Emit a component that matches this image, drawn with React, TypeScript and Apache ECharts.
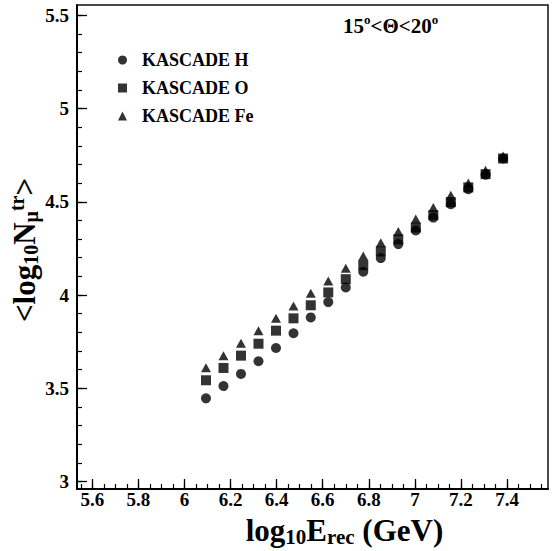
import React, { useEffect, useRef } from "react";
import * as echarts from "echarts";

// log10(E_rec / GeV) bin centres
const energies = [6.093, 6.169, 6.245, 6.321, 6.397, 6.473, 6.548, 6.624, 6.7, 6.776, 6.852, 6.928, 7.004, 7.08, 7.156, 7.232, 7.307, 7.383];
// <log10 N_mu^tr>
const hydrogen = [3.446, 3.512, 3.577, 3.645, 3.716, 3.795, 3.88, 3.962, 4.041, 4.125, 4.198, 4.273, 4.346, 4.415, 4.487, 4.567, 4.645, 4.732];
const oxygen = [3.543, 3.609, 3.675, 3.739, 3.809, 3.875, 3.945, 4.014, 4.085, 4.16, 4.234, 4.298, 4.362, 4.428, 4.498, 4.577, 4.648, 4.732];
const iron = [3.61, 3.675, 3.741, 3.809, 3.875, 3.941, 4.009, 4.075, 4.144, 4.209, 4.28, 4.341, 4.407, 4.469, 4.535, 4.6, 4.669, 4.746];

const seriesNames = ["KASCADE H", "KASCADE O", "KASCADE Fe"];
const xTickLabels = [5.6, 5.8, 6, 6.2, 6.4, 6.6, 6.8, 7, 7.2, 7.4];
const yTickLabels = [3, 3.5, 4, 4.5, 5, 5.5];

const X_MIN = 5.533;
const X_MAX = 7.578;
const Y_MIN = 2.96;
const Y_MAX = 5.555;

const FONT = "'Liberation Serif', 'Times New Roman', serif";

function minorTicks(lo: number, hi: number, step: number): number[] {
  const out: number[] = [];
  const n = Math.round((hi - lo) / step);
  for (let i = 0; i <= n; i++) out.push(Math.round((lo + i * step) * 1000) / 1000);
  return out;
}

const fmt = (v: number) => String(Math.round(v * 10) / 10);

export default function App() {
  const ref = useRef<HTMLDivElement>(null);

  useEffect(() => {
    if (!ref.current) return;
    const chart = echarts.init(ref.current, undefined, { renderer: "svg" });

    const xMinor = minorTicks(5.55, 7.55, 0.05);
    const yMinor = minorTicks(3.0, 5.5, 0.1);

    const toPairs = (ys: number[]) => energies.map((x, i) => [x, ys[i]]);

    const base = { fontFamily: FONT, fontWeight: "bold" as const, color: "#000" };

    chart.setOption({
      animation: false,
      backgroundColor: "#fff",
      title: {
        text: "{a|15}{s|o}{a|<Θ<20}{s|o}",
        left: 338,
        top: 8,
        textStyle: {
          rich: {
            a: { ...base, fontSize: 21, lineHeight: 26 },
            s: { ...base, fontSize: 13, lineHeight: 14, verticalAlign: "top" },
          },
        },
      },
      legend: {
        orient: "vertical",
        left: 113,
        top: 46,
        padding: 5,
        itemWidth: 9,
        itemHeight: 9,
        itemGap: 10,
        selectedMode: false,
        textStyle: { ...base, fontSize: 18, lineHeight: 18, padding: [0, 0, 0, 10] },
        data: [
          { name: seriesNames[0], icon: "circle" },
          { name: seriesNames[1], icon: "rect" },
          { name: seriesNames[2], icon: "triangle" },
        ],
      },
      grid: {
        left: 77,
        top: 5,
        width: 471,
        height: 484,
        show: true,
        borderColor: "#111",
        borderWidth: 1.5,
        backgroundColor: "transparent",
        containLabel: false,
        outerBoundsMode: "none",
      },
      xAxis: [
        {
          type: "value",
          min: X_MIN,
          max: X_MAX,
          position: "bottom",
          name: "{a|log}{s|10}{a|E}{s|rec}{a| (GeV)}",
          nameLocation: "middle",
          nameGap: 24,
          nameMoveOverlap: false,
          nameTextStyle: {
            padding: [0, 0, 0, 64],
            rich: {
              a: { ...base, fontSize: 31, lineHeight: 34 },
              s: { ...base, fontSize: 21, lineHeight: 12, verticalAlign: "bottom" },
            },
          },
          axisLine: { onZero: false, lineStyle: { color: "#000", width: 2 } },
          axisTick: { inside: true, length: 10, customValues: xTickLabels, lineStyle: { color: "#000", width: 1.3 } },
          axisLabel: { customValues: xTickLabels, formatter: fmt, ...base, fontSize: 19, lineHeight: 15, margin: 3 },
          splitLine: { show: false },
        },
        {
          type: "value",
          min: X_MIN,
          max: X_MAX,
          position: "bottom",
          offset: 0,
          axisLine: { show: false, onZero: false },
          axisTick: { inside: true, length: 5, customValues: xMinor, lineStyle: { color: "#000", width: 1.2 } },
          axisLabel: { show: false },
          splitLine: { show: false },
        },
      ],
      yAxis: [
        {
          type: "value",
          min: Y_MIN,
          max: Y_MAX,
          position: "left",
          name: "{a|<log}{s|10}{a|N}{s|μ}{u|tr}{a|>}",
          nameLocation: "middle",
          nameGap: 36,
          nameRotate: 90,
          nameMoveOverlap: false,
          nameTextStyle: {
            padding: [0, 6, 0, 0],
            rich: {
              a: { ...base, fontSize: 31, lineHeight: 34 },
              s: { ...base, fontSize: 20, lineHeight: 14, verticalAlign: "bottom" },
              u: { ...base, fontSize: 20, lineHeight: 14, verticalAlign: "top" },
            },
          },
          axisLine: { onZero: false, lineStyle: { color: "#000", width: 2 } },
          axisTick: { inside: true, length: 10, customValues: yTickLabels, lineStyle: { color: "#000", width: 1.3 } },
          axisLabel: { customValues: yTickLabels, formatter: fmt, ...base, fontSize: 19, margin: 8 },
          splitLine: { show: false },
        },
        {
          type: "value",
          min: Y_MIN,
          max: Y_MAX,
          position: "left",
          offset: 0,
          axisLine: { show: false, onZero: false },
          axisTick: { inside: true, length: 5, customValues: yMinor, lineStyle: { color: "#000", width: 1.2 } },
          axisLabel: { show: false },
          splitLine: { show: false },
        },
      ],
      series: [
        {
          name: seriesNames[0],
          type: "scatter",
          symbol: "circle",
          symbolSize: 10,
          itemStyle: { color: "#000" },
          data: toPairs(hydrogen),
        },
        {
          name: seriesNames[1],
          type: "scatter",
          symbol: "rect",
          symbolSize: 10,
          itemStyle: { color: "#000" },
          data: toPairs(oxygen),
        },
        {
          name: seriesNames[2],
          type: "scatter",
          symbol: "triangle",
          symbolSize: [10, 9],
          itemStyle: { color: "#000" },
          data: toPairs(iron),
        },
      ],
    });

    return () => chart.dispose();
  }, []);

  return (
    <div
      ref={ref}
      style={{ position: "absolute", left: 0, top: 0, width: 557, height: 551, background: "#fff" }}
    />
  );
}
